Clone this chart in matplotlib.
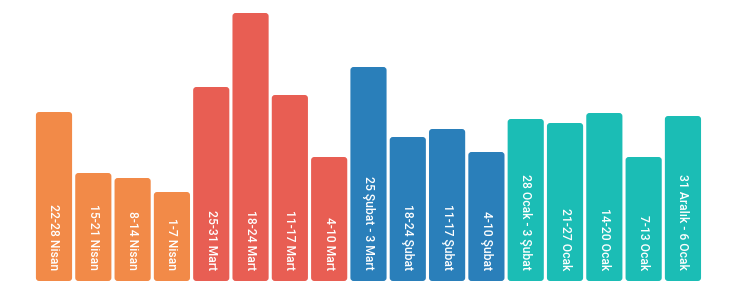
import matplotlib
matplotlib.use("Agg")
import matplotlib.pyplot as plt
from matplotlib.patches import FancyBboxPatch

labels = ["22-28 Nisan", "15-21 Nisan", "8-14 Nisan", "1-7 Nisan",
          "25-31 Mart", "18-24 Mart", "11-17 Mart", "4-10 Mart",
          "25 Şubat - 3 Mart", "18-24 Şubat", "11-17 Şubat", "4-10 Şubat",
          "28 Ocak - 3 Şubat", "21-27 Ocak", "14-20 Ocak", "7-13 Ocak",
          "31 Aralık - 6 Ocak"]
values = [169, 108, 103, 89, 194, 268, 186, 124, 214, 144, 152, 129,
          162, 158, 168, 124, 165]
groups = ["Nisan"] * 4 + ["Mart"] * 4 + ["Şubat"] * 4 + ["Ocak"] * 5
group_colors = {"Nisan": "#F28A48", "Mart": "#E85E53", "Şubat": "#2A7FBA", "Ocak": "#1BBDB5"}

fig = plt.figure(figsize=(7.5, 3.04), dpi=100)
ax = fig.add_axes([0, 0, 1, 1])
spacing = 39.31
ax.set_xlim(-54 / spacing, (750 - 54) / spacing)
ax.set_ylim(-23, 281)
ax.axis("off")

x = list(range(len(values)))
bars = ax.bar(x, values, width=0.92, color=[group_colors[g] for g in groups])
aspect = spacing
for b, g in zip(bars, groups):
    b.set_visible(False)
    p = FancyBboxPatch((b.get_x(), b.get_y()), b.get_width(), b.get_height(),
                       boxstyle="round,pad=0,rounding_size=0.08",
                       mutation_aspect=aspect, facecolor=group_colors[g],
                       edgecolor="none")
    ax.add_patch(p)

for xi, lab in zip(x, labels):
    ax.text(xi, 11, lab, rotation=-90, ha="center", va="bottom",
            color="white", fontsize=8.7, family="Roboto", weight=500)

fig.savefig("out.png", dpi=100)
